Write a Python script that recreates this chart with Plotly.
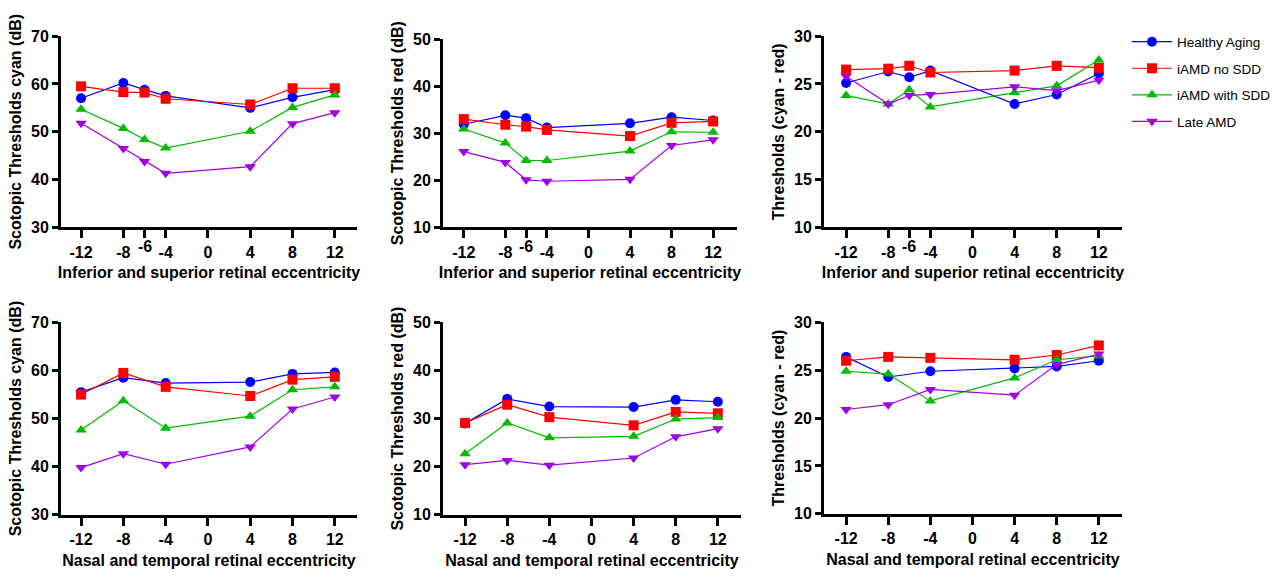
import plotly.graph_objects as go

series_names = ["Healthy Aging", "iAMD no SDD", "iAMD with SDD", "Late AMD"]
series_colors = ["#0000FF", "#FF0000", "#00BB00", "#A000E6"]
series_symbols = ["circle", "square", "triangle-up", "triangle-down"]

x_is = [-12, -8, -6, -4, 4, 8, 12]
x_nt = [-12, -8, -4, 4, 8, 12]
ticks_is = [-12, -8, -6, -4, 0, 4, 8, 12]
ticks_nt = [-12, -8, -4, 0, 4, 8, 12]

# Inferior / superior, cyan
cyan_is_healthy = [57.0, 60.2, 58.8, 57.5, 55.0, 57.2, 58.8]
cyan_is_nosdd = [59.5, 58.3, 58.2, 56.9, 55.7, 59.1, 59.1]
cyan_is_sdd = [54.7, 50.7, 48.4, 46.6, 50.1, 55.1, 57.7]
cyan_is_late = [51.8, 46.5, 43.8, 41.3, 42.7, 51.7, 54.0]

# Inferior / superior, red
red_is_healthy = [31.9, 33.8, 33.2, 31.2, 32.1, 33.4, 32.7]
red_is_nosdd = [33.0, 31.8, 31.4, 30.7, 29.4, 32.2, 32.5]
red_is_sdd = [30.9, 27.9, 24.2, 24.2, 26.2, 30.3, 30.2]
red_is_late = [26.1, 23.8, 20.1, 19.8, 20.2, 27.4, 28.6]

# Inferior / superior, cyan - red
diff_is_healthy = [25.1, 26.3, 25.7, 26.4, 22.9, 23.9, 26.1]
diff_is_nosdd = [26.5, 26.6, 26.9, 26.2, 26.4, 26.9, 26.7]
diff_is_sdd = [23.8, 22.9, 24.4, 22.6, 24.1, 24.8, 27.5]
diff_is_late = [25.8, 22.9, 23.8, 23.9, 24.7, 24.3, 25.4]

# Nasal / temporal, cyan
cyan_nt_healthy = [55.5, 58.5, 57.4, 57.6, 59.3, 59.6]
cyan_nt_nosdd = [55.0, 59.5, 56.6, 54.7, 58.1, 58.7]
cyan_nt_sdd = [47.6, 53.7, 48.0, 50.5, 56.0, 56.6]
cyan_nt_late = [39.8, 42.7, 40.5, 44.1, 52.0, 54.5]

# Nasal / temporal, red
red_nt_healthy = [29.0, 34.1, 32.5, 32.4, 33.9, 33.5]
red_nt_nosdd = [29.1, 32.9, 30.3, 28.6, 31.4, 31.1]
red_nt_sdd = [22.7, 29.1, 26.0, 26.3, 29.9, 30.2]
red_nt_late = [20.4, 21.3, 20.3, 21.8, 26.2, 27.9]

# Nasal / temporal, cyan - red
diff_nt_healthy = [26.4, 24.3, 24.9, 25.2, 25.4, 26.0]
diff_nt_nosdd = [26.0, 26.4, 26.3, 26.1, 26.6, 27.6]
diff_nt_sdd = [24.9, 24.6, 21.8, 24.2, 26.1, 26.5]
diff_nt_late = [20.9, 21.4, 23.0, 22.4, 25.6, 26.7]

W, H = 1279, 579

panels = [
    dict(x=x_is, ticks=ticks_is, data=[cyan_is_healthy, cyan_is_nosdd, cyan_is_sdd, cyan_is_late],
         ytitle="Scotopic Thresholds cyan (dB)", xtitle="Inferior and superior retinal eccentricity",
         yr=[30, 70], ydt=10, px=(61, 357), py=(29, 226), xr=[-13.9, 14.1]),
    dict(x=x_is, ticks=ticks_is, data=[red_is_healthy, red_is_nosdd, red_is_sdd, red_is_late],
         ytitle="Scotopic Thresholds red (dB)", xtitle="Inferior and superior retinal eccentricity",
         yr=[10, 50], ydt=10, px=(443, 737), py=(32, 226), xr=[-14.0, 14.3]),
    dict(x=x_is, ticks=ticks_is, data=[diff_is_healthy, diff_is_nosdd, diff_is_sdd, diff_is_late],
         ytitle="Thresholds (cyan - red)", xtitle="Inferior and superior retinal eccentricity",
         yr=[10, 30], ydt=5, px=(824, 1122), py=(29, 226), xr=[-14.1, 14.2]),
    dict(x=x_nt, ticks=ticks_nt, data=[cyan_nt_healthy, cyan_nt_nosdd, cyan_nt_sdd, cyan_nt_late],
         ytitle="Scotopic Thresholds cyan (dB)", xtitle="Nasal and temporal retinal eccentricity",
         yr=[30, 70], ydt=10, px=(61, 357), py=(324, 522), xr=[-13.9, 14.1]),
    dict(x=x_nt, ticks=ticks_nt, data=[red_nt_healthy, red_nt_nosdd, red_nt_sdd, red_nt_late],
         ytitle="Scotopic Thresholds red (dB)", xtitle="Nasal and temporal retinal eccentricity",
         yr=[10, 50], ydt=10, px=(443, 741), py=(324, 522), xr=[-14.1, 14.2]),
    dict(x=x_nt, ticks=ticks_nt, data=[diff_nt_healthy, diff_nt_nosdd, diff_nt_sdd, diff_nt_late],
         ytitle="Thresholds (cyan - red)", xtitle="Nasal and temporal retinal eccentricity",
         yr=[10, 30], ydt=5, px=(824, 1122), py=(324, 521), xr=[-14.1, 14.2]),
]

FONT = "Liberation Sans, Arial, sans-serif"
FS = 16
fig = go.Figure()
layout = dict(
    width=W, height=H,
    margin=dict(l=0, r=0, t=0, b=0),
    paper_bgcolor="white", plot_bgcolor="white",
    font=dict(family=FONT, color="black"),
    showlegend=True,
    legend=dict(x=1127 / W, y=1 - 19 / H, xanchor="left", yanchor="top",
                font=dict(size=13.5, family=FONT, color="black"),
                tracegroupgap=6, itemwidth=40, bgcolor="rgba(0,0,0,0)"),
)
annotations = []

for i, p in enumerate(panels):
    n = i + 1
    xa = "x" if n == 1 else f"x{n}"
    ya = "y" if n == 1 else f"y{n}"
    for s in range(4):
        fig.add_trace(go.Scatter(
            x=p["x"], y=p["data"][s], mode="lines+markers", name=series_names[s],
            legendgroup=series_names[s], showlegend=(i == 0),
            line=dict(color=series_colors[s], width=1.2),
            marker=dict(symbol=series_symbols[s], color=series_colors[s], size=10),
            xaxis=xa, yaxis=ya, cliponaxis=False,
        ))
    ticktext = ["" if (t == -6) else str(t) for t in p["ticks"]]
    layout[f"xaxis{'' if n == 1 else n}"] = dict(
        domain=[p["px"][0] / W, p["px"][1] / W], anchor=ya, range=p["xr"],
        tickmode="array", tickvals=p["ticks"], ticktext=ticktext,
        showline=True, linecolor="black", linewidth=3, mirror=False,
        ticks="outside", ticklen=8, tickwidth=3, tickcolor="black",
        showgrid=False, zeroline=False,
        tickfont=dict(size=FS, family=FONT, weight="bold", color="black"),
        title=dict(text=p["xtitle"], font=dict(size=FS, family=FONT, weight="bold", color="black"), standoff=8),
    )
    layout[f"yaxis{'' if n == 1 else n}"] = dict(
        domain=[1 - p["py"][1] / H, 1 - p["py"][0] / H], anchor=xa, range=p["yr"],
        tickmode="linear", tick0=p["yr"][0], dtick=p["ydt"],
        showline=True, linecolor="black", linewidth=3,
        ticks="outside", ticklen=6, tickwidth=3, tickcolor="black",
        showgrid=False, zeroline=False,
        tickfont=dict(size=FS, family=FONT, weight="bold", color="black"),
        title=dict(text=p["ytitle"], font=dict(size=FS, family=FONT, weight="bold", color="black"), standoff=6),
    )
    if -6 in p["ticks"]:
        annotations.append(dict(
            x=-6, xref=xa, y=1 - (p["py"][1] + 9) / H, yref="paper",
            text="-6", showarrow=False, yanchor="top", xanchor="center",
            font=dict(size=FS, family=FONT, weight="bold", color="black"),
        ))

layout["annotations"] = annotations
fig.update_layout(**layout)
fig.write_html("out.html")
